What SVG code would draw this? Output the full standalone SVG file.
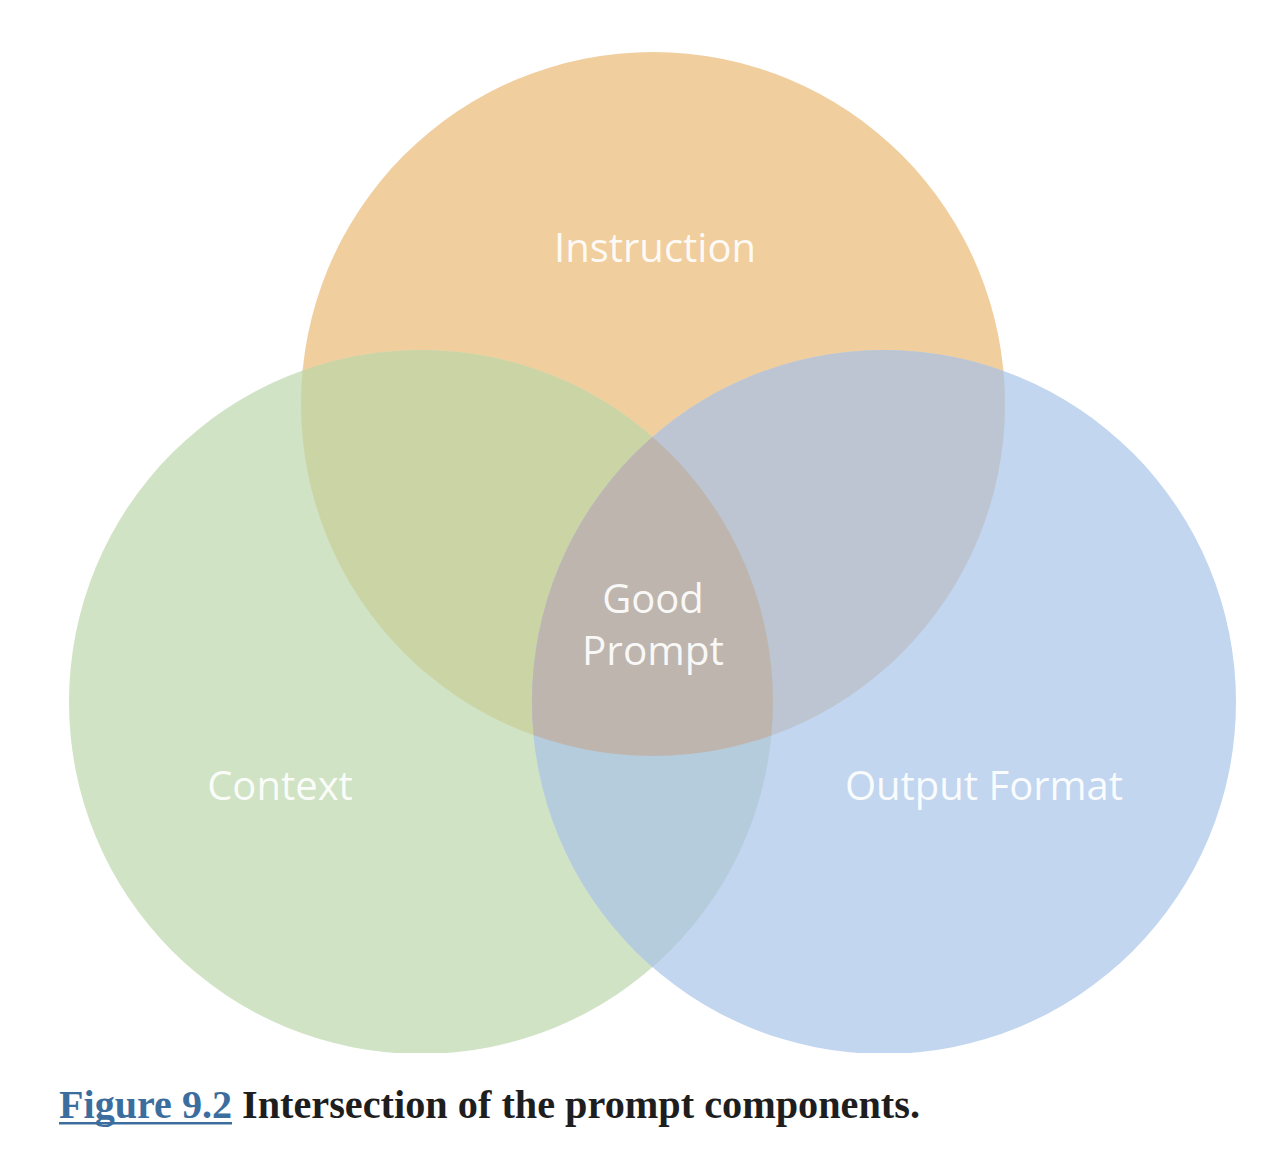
<svg xmlns="http://www.w3.org/2000/svg" width="1268" height="1152" viewBox="0 0 1268 1152">
<style>
.lbl{font-family:"Open Sans","DejaVu Sans",sans-serif;font-size:40px;fill:#ffffff;fill-opacity:0.92;text-anchor:middle}
.cap{font-family:"Liberation Serif","Times New Roman",serif;font-weight:bold;font-size:39px}
</style>
<defs>
<clipPath id="cO"><circle cx="653" cy="404" r="352"/></clipPath>
<clipPath id="cG"><circle cx="421" cy="702" r="352"/></clipPath>
<clipPath id="cB"><circle cx="884" cy="702" r="352"/></clipPath>
<clipPath id="frame"><rect x="0" y="52" width="1268" height="1001"/></clipPath>
</defs>
<rect width="1268" height="1152" fill="#ffffff"/>
<g clip-path="url(#frame)">
<g id="instruction">
<circle cx="653" cy="404" r="352" fill="#F0CE9E"/>
</g>
<g id="context">
<circle cx="421" cy="702" r="352" fill="#D0E3C4"/>
</g>
<g id="output-format">
<circle cx="884" cy="702" r="352" fill="#C2D6EF"/>
</g>
<g id="overlaps">
<g clip-path="url(#cO)"><circle cx="421" cy="702" r="352" fill="#CBD4A4"/></g>
<g clip-path="url(#cO)"><circle cx="884" cy="702" r="352" fill="#BCC5D1"/></g>
<g clip-path="url(#cG)"><circle cx="884" cy="702" r="352" fill="#B5CCDD"/></g>
<g clip-path="url(#cO)"><g clip-path="url(#cG)"><circle cx="884" cy="702" r="352" fill="#BEB5AF"/></g></g>
</g>
</g>
<g id="labels">
<text class="lbl" x="655" y="262">Instruction</text>
<text class="lbl" x="280" y="800">Context</text>
<text class="lbl" x="984" y="800">Output Format</text>
</g>
<g id="good-prompt">
<text class="lbl" x="653" y="613">Good</text>
<text class="lbl" x="653" y="665" textLength="142" lengthAdjust="spacingAndGlyphs">Prompt</text>
</g>
<g id="caption">
<text class="cap" x="59" y="1118" fill="#3B6E9E" textLength="173" lengthAdjust="spacingAndGlyphs">Figure 9.2</text>
<rect x="59" y="1122" width="173" height="2.5" fill="#3B6E9E"/>
<text class="cap" x="242" y="1118" fill="#1E1E1E" textLength="678" lengthAdjust="spacingAndGlyphs">Intersection of the prompt components.</text>
</g>
</svg>
